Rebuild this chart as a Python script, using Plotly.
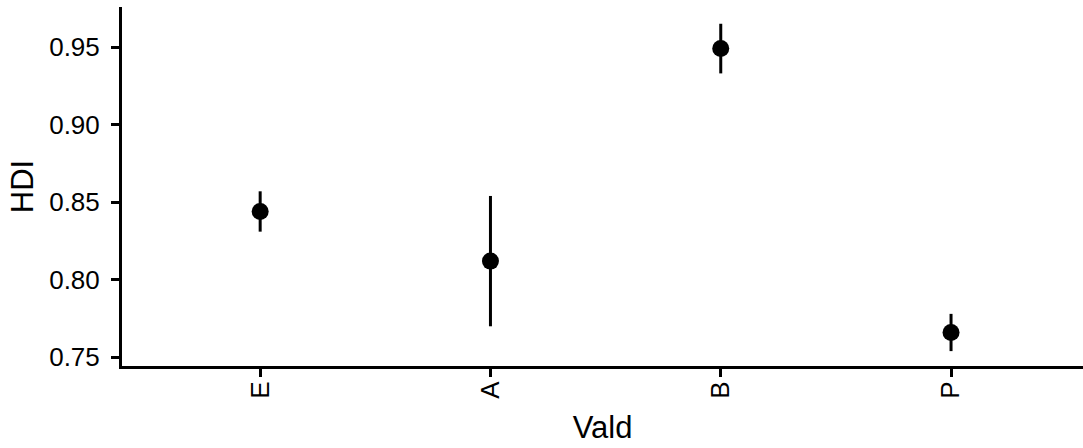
import plotly.graph_objects as go

# HDI estimates per group with lower/upper interval bounds
groups = ["E", "A", "B", "P"]
hdi_mean = [0.844, 0.812, 0.949, 0.766]
hdi_lower = [0.831, 0.770, 0.933, 0.754]
hdi_upper = [0.857, 0.854, 0.965, 0.778]

y_ticks = [0.75, 0.80, 0.85, 0.90, 0.95]

err_plus = [u - m for u, m in zip(hdi_upper, hdi_mean)]
err_minus = [m - l for m, l in zip(hdi_mean, hdi_lower)]

fig = go.Figure(
    go.Scatter(
        x=groups,
        y=hdi_mean,
        mode="markers",
        marker=dict(color="black", size=17),
        error_y=dict(
            type="data",
            array=err_plus,
            arrayminus=err_minus,
            color="black",
            thickness=3,
            width=0,
        ),
        showlegend=False,
    )
)

font = "Liberation Sans, Arial, sans-serif"

fig.update_layout(
    width=1083,
    height=448,
    margin=dict(l=122, r=0, t=7, b=82),
    plot_bgcolor="white",
    paper_bgcolor="white",
    font=dict(family=font, color="black"),
    xaxis=dict(
        type="category",
        range=[-0.6, 3.573],
        showline=True,
        linecolor="black",
        linewidth=3,
        ticks="outside",
        ticklen=8,
        tickwidth=3,
        tickcolor="black",
        tickangle=-90,
        tickfont=dict(size=26, color="black"),
        ticklabelstandoff=-6,
        showgrid=False,
        zeroline=False,
        title=dict(text="Vald", font=dict(size=31, color="black"), standoff=19),
    ),
    yaxis=dict(
        range=[0.7444, 0.9758],
        tickvals=y_ticks,
        ticktext=[f"{v:.2f}" for v in y_ticks],
        showline=True,
        linecolor="black",
        linewidth=3,
        ticks="outside",
        ticklen=8,
        tickwidth=3,
        tickcolor="black",
        tickfont=dict(size=26, color="black"),
        ticklabelstandoff=6,
        showgrid=False,
        zeroline=False,
        title=dict(text="HDI", font=dict(size=31, color="black"), standoff=7),
    ),
)

fig.write_html("out.html")
